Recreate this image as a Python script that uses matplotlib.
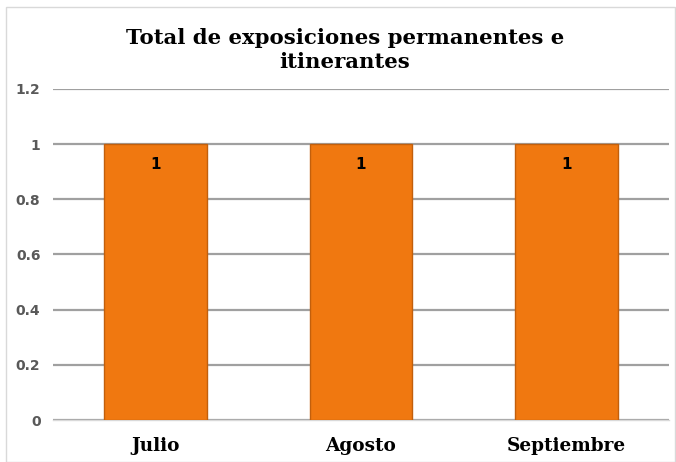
import matplotlib
matplotlib.use("Agg")
import matplotlib.pyplot as plt
from matplotlib.patches import Rectangle

categories = ["Julio", "Agosto", "Septiembre"]
values = [1, 1, 1]
yticks = [0, 0.2, 0.4, 0.6, 0.8, 1, 1.2]
yticklabels = ["0", "0.2", "0.4", "0.6", "0.8", "1", "1.2"]
title = "Total de exposiciones permanentes e\nitinerantes"

fig = plt.figure(figsize=(6.76, 4.62), dpi=100)
fig.patch.set_facecolor("white")
fig.add_artist(Rectangle((6/676, 0.0), 669/676, 1 - 7/462, transform=fig.transFigure,
                         fill=False, edgecolor="#D9D9D9", linewidth=1.0))

ax = fig.add_axes([53/676, 1 - 420/462, (669-53)/676, (420-89)/462])
x = list(range(len(categories)))
ax.bar(x, values, width=0.5, color="#F07810", edgecolor="#C25F0C", linewidth=1.0, zorder=3)
ax.set_xlim(-0.5, len(categories) - 0.5)
ax.set_ylim(0, 1.2)
ax.set_yticks(yticks)
ax.set_yticklabels(yticklabels, fontsize=10, fontweight="bold", color="#595959", family="DejaVu Sans")
ax.set_xticks(x)
ax.set_xticklabels(categories, fontsize=13.3, fontweight="bold", family="DejaVu Serif", color="black")
ax.tick_params(axis="both", length=0)
ax.tick_params(axis="y", pad=9)
ax.tick_params(axis="x", pad=12)
ax.grid(axis="y", color="#A0A0A0", linewidth=1.6, zorder=0)
ax.grid(axis="x", visible=False)
for s in ["top", "right", "left"]:
    ax.spines[s].set_visible(False)
ax.spines["bottom"].set_color("#D9D9D9")
ax.spines["bottom"].set_linewidth(1.0)

for xi, v in zip(x, values):
    ax.annotate(str(v), (xi, v), xytext=(0, -14.5), textcoords="offset points",
                ha="center", va="center", fontsize=11, fontweight="bold",
                family="DejaVu Sans", color="black", zorder=4)

fig.text(0.51, 1 - 50/462, title, ha="center", va="center", fontsize=15.3,
         fontweight="bold", family="DejaVu Serif", linespacing=1.3)

fig.savefig("out.png", dpi=100)
